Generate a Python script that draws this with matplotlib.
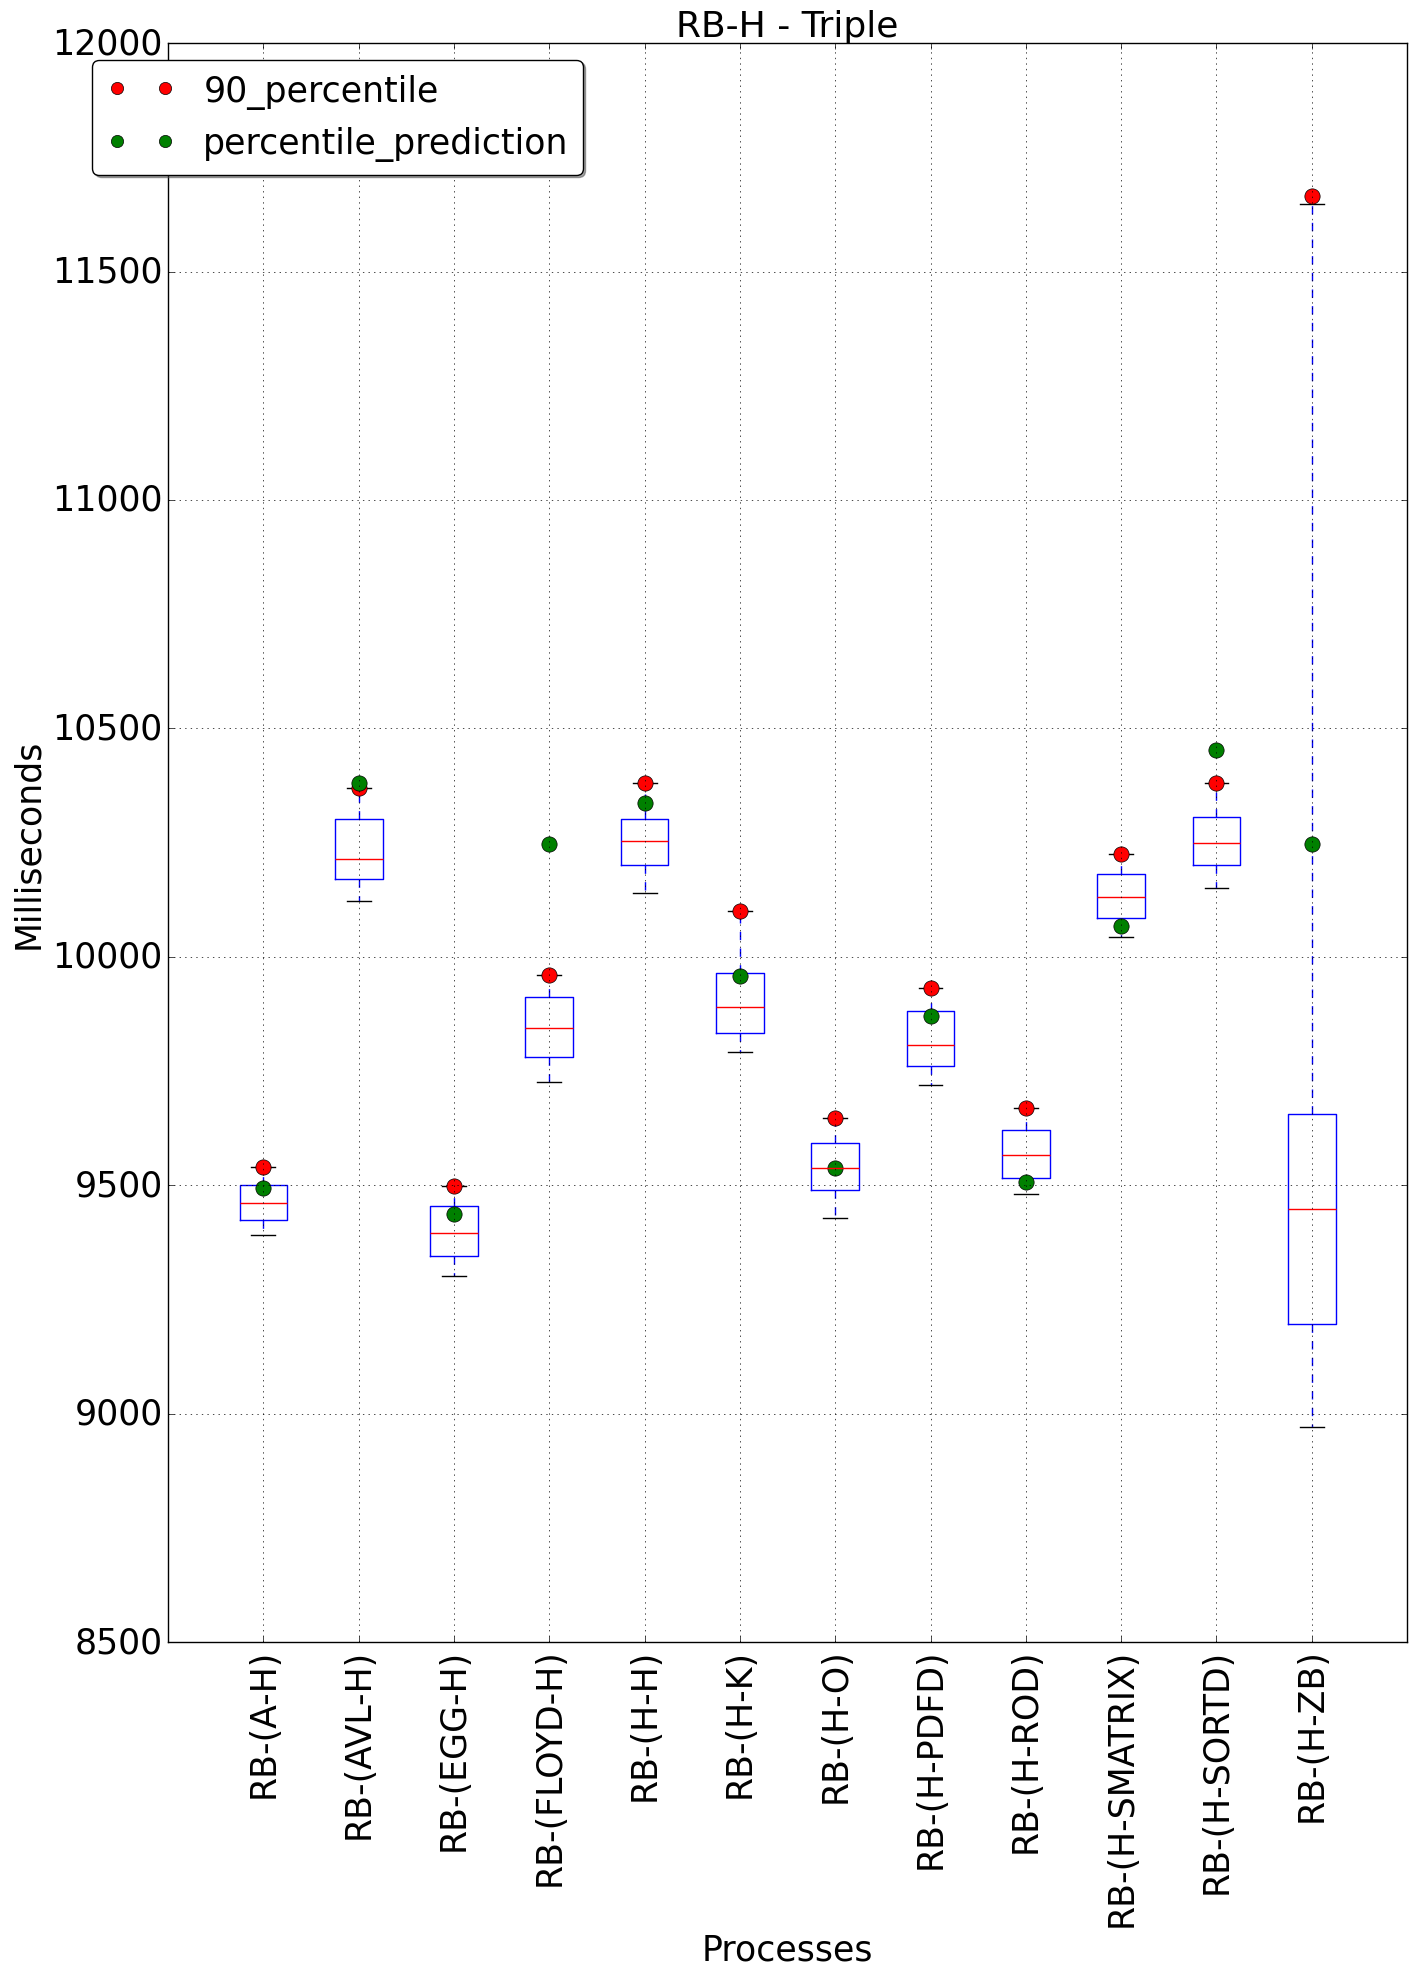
import matplotlib
matplotlib.use("Agg")
import matplotlib.pyplot as plt

plt.style.use("classic")
plt.rcParams["figure.facecolor"] = "white"
plt.rcParams["savefig.facecolor"] = "white"
plt.rcParams["font.family"] = ["DejaVu Sans"]

# Processes and box statistics (ms)
processes = ["RB-(A-H)", "RB-(AVL-H)", "RB-(EGG-H)", "RB-(FLOYD-H)", "RB-(H-H)",
             "RB-(H-K)", "RB-(H-O)", "RB-(H-PDFD)", "RB-(H-ROD)", "RB-(H-SMATRIX)",
             "RB-(H-SORTD)", "RB-(H-ZB)"]
whis_low = [9390, 10123, 9302, 9727, 10139, 9791, 9429, 9719, 9481, 10043, 10150, 8970]
q1 = [9423, 10170, 9346, 9780, 10200, 9833, 9490, 9761, 9515, 10084, 10200, 9197]
median = [9462, 10214, 9396, 9844, 10253, 9891, 9537, 9808, 9567, 10131, 10250, 9448]
q3 = [9500, 10302, 9454, 9913, 10302, 9965, 9592, 9882, 9620, 10181, 10305, 9656]
whis_high = [9540, 10369, 9498, 9960, 10380, 10101, 9647, 9932, 9669, 10225, 10380, 11649]

percentile_90 = [9539, 10369, 9498, 9960, 10380, 10101, 9647, 9932, 9669, 10225, 10380, 11665]
percentile_pred = [9495, 10380, 9437, 10247, 10336, 9957, 9537, 9871, 9506, 10067, 10452, 10247]

fig = plt.figure(figsize=(14.17, 19.81), dpi=100)
ax = fig.add_axes([0.1186, 0.1706, 0.8744, 0.8071])

stats = []
for i in range(len(processes)):
    stats.append({"whislo": whis_low[i], "q1": q1[i], "med": median[i],
                  "q3": q3[i], "whishi": whis_high[i], "fliers": []})

pos = list(range(1, len(processes) + 1))
ax.bxp(stats, positions=pos, widths=0.5, showfliers=False,
       boxprops=dict(color="b"), whiskerprops=dict(color="b", linestyle="--"),
       capprops=dict(color="k"), medianprops=dict(color="r"))

ax.plot(pos, percentile_90, "ro", markersize=11, label="90_percentile")
ax.plot(pos, percentile_pred, "go", markersize=11, label="percentile_prediction")

ax.set_xlim(0, 13)
ax.set_ylim(8500, 12000)
ax.set_xticks(pos)
ax.set_xticklabels(processes, rotation=90, fontsize=25)
ax.tick_params(axis="y", labelsize=25)
ax.grid(True)

ax.set_title("RB-H - Triple", fontsize=26)
ax.set_xlabel("Processes", fontsize=25)
ax.set_ylabel("Milliseconds", fontsize=25)
ax.legend(loc="upper left", numpoints=2, shadow=True, fancybox=True,
          fontsize=25, markerscale=0.8, borderaxespad=0,
          bbox_to_anchor=(0.0651, 0.9694), bbox_transform=fig.transFigure)

fig.savefig("out.png", dpi=100)
